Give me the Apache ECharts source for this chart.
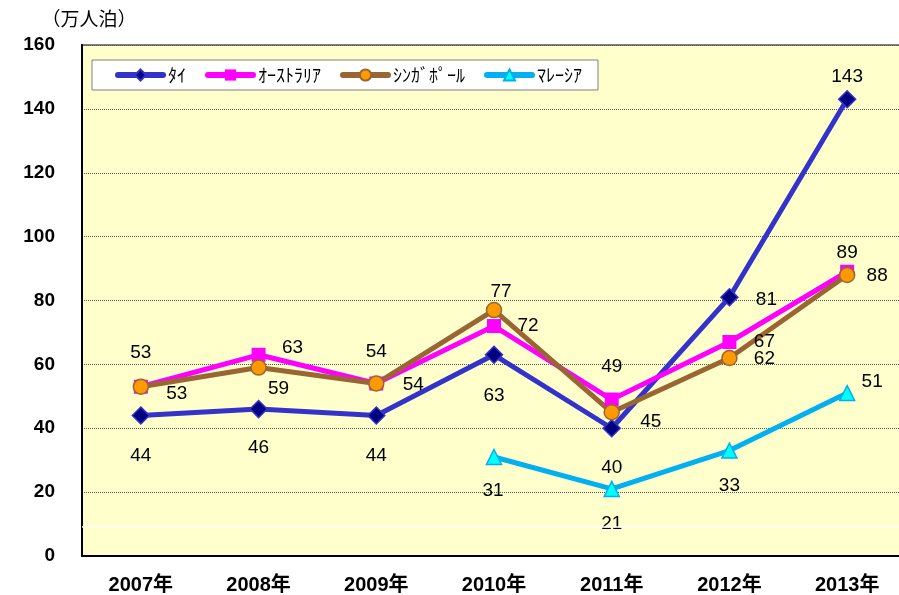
<!DOCTYPE html>
<html>
<head>
<meta charset="utf-8">
<script src="https://cdn.jsdelivr.net/npm/echarts@6/dist/echarts.min.js"></script>
<style>
  html, body { margin: 0; padding: 0; background: #fff; }
  #drew { width: 899px; height: 595px; }
</style>
</head>
<body>
<div id="drew"></div>
<script>
   // data
   var years = ['2007年', '2008年', '2009年', '2010年', '2011年', '2012年', '2013年'];
   var seriesNames = ['ﾀｲ', 'ｵｰｽﾄﾗﾘｱ', 'ｼﾝｶﾞﾎﾟｰﾙ', 'ﾏﾚｰｼｱ'];
   var thai = [44, 46, 44, 63, 40, 81, 143];
   var australia = [53, 63, 54, 72, 49, 67, 89];
   var singapore = [53, 59, 54, 77, 45, 62, 88];
   var malaysia = [null, null, null, 31, 21, 33, 51];
   var whiteRule = 9.3;

   // where each value label sits relative to its point (px)
   var thaiLabelPos = [[0, 40], [0, 39], [0, 40], [0, 41], [0, 40], [37, 2], [0, -23]];
   var australiaLabelPos = [[0, -34], [34, -7], [0, -32], [34, 0], [0, -33], [35, 0], [0, -19]];
   var singaporeLabelPos = [[36, 7], [20, 21], [37, 1], [7, -18], [39, 9], [35, 1], [30, 1]];
   var malaysiaLabelPos = [[0, 0], [0, 0], [0, 0], [-1, 34], [0, 35], [0, 35], [25, -11]];

   var labelFont = 'Liberation Sans, Arial, sans-serif';

   function points(values, pos) {
       return values.map(function (v, i) {
           return {
               value: v,
               label: { offset: pos[i] }
           };
       });
   }

   function lineSeries(name, values, pos, color, symbol, size, fill, border) {
       return {
           name: name,
           type: 'line',
           data: points(values, pos),
           symbol: symbol,
           symbolSize: size,
           lineStyle: { color: color, width: 5 },
           itemStyle: { color: fill, borderColor: border, borderWidth: border ? 1.5 : 0 },
           label: {
               show: true,
               position: 'inside',
               color: '#000',
               fontSize: 19,
               fontFamily: labelFont,
               textBorderWidth: 0
           },
           emphasis: { disabled: true },
           animation: false
       };
   }

   var myChart = echarts.init(document.getElementById('drew'));
   var option = {
       backgroundColor: '#fff',
       animation: false,
       grid: {
           left: 82,
           top: 45,
           width: 824,
           height: 511,
           outerBoundsMode: 'none',
           show: true,
           backgroundColor: '#FFFFCC',
           borderColor: '#808080',
           borderWidth: 2
       },
       legend: {
           data: seriesNames,
           left: 92,
           top: 60,
           itemWidth: 45,
           itemHeight: 14,
           itemGap: 19,
           padding: [6, 16, 6, 23],
           backgroundColor: '#fff',
           borderColor: '#808080',
           borderWidth: 1,
           lineStyle: { width: 6, cap: 'round' },
           textStyle: {
               color: '#000',
               fontSize: 18,
               fontFamily: 'Noto Sans CJK JP'
           }
       },
       xAxis: {
           type: 'category',
           data: years,
           axisLine: { lineStyle: { color: '#000', width: 2 } },
           axisTick: { inside: true, length: 5, lineStyle: { color: '#808080' } },
           axisLabel: {
               color: '#000',
               fontSize: 20,
               fontWeight: 'bold',
               fontFamily: 'Liberation Sans, Noto Sans CJK JP',
               margin: 19
           }
       },
       yAxis: {
           type: 'value',
           min: 0,
           max: 160,
           interval: 20,
           name: '（万人泊）',
           nameLocation: 'end',
           nameGap: 17,
           nameTextStyle: {
               color: '#000',
               fontSize: 19,
               fontFamily: 'Noto Sans CJK JP',
               align: 'center',
               padding: [0, 0, 0, 14]
           },
           axisLine: { show: true, lineStyle: { color: '#000', width: 2 } },
           axisTick: { show: false },
           axisLabel: {
               color: '#000',
               fontSize: 19,
               fontWeight: 'bold',
               fontFamily: labelFont,
               margin: 27
           },
           splitLine: { lineStyle: { color: '#555', type: 'dotted', width: 1 } }
       },
       series: [
           lineSeries(seriesNames[0], thai, thaiLabelPos, '#3333CC', 'diamond', 17, '#000080', '#3333CC'),
           lineSeries(seriesNames[1], australia, australiaLabelPos, '#FF00FF', 'rect', 14, '#FF00FF', null),
           lineSeries(seriesNames[2], singapore, singaporeLabelPos, '#996633', 'circle', 15, '#FF9900', '#996633'),
           lineSeries(seriesNames[3], malaysia, malaysiaLabelPos, '#00B0F0', 'triangle', 15, '#00FFFF', '#00B0F0')
       ]
   };
   option.series[0].markLine = {
       silent: true,
       symbol: 'none',
       label: { show: false },
       lineStyle: { color: '#fff', type: 'solid', width: 1.5 },
       data: [{ yAxis: whiteRule }]
   };
   option.series[0].z = 1;
   myChart.setOption(option);
</script>
</body>
</html>
